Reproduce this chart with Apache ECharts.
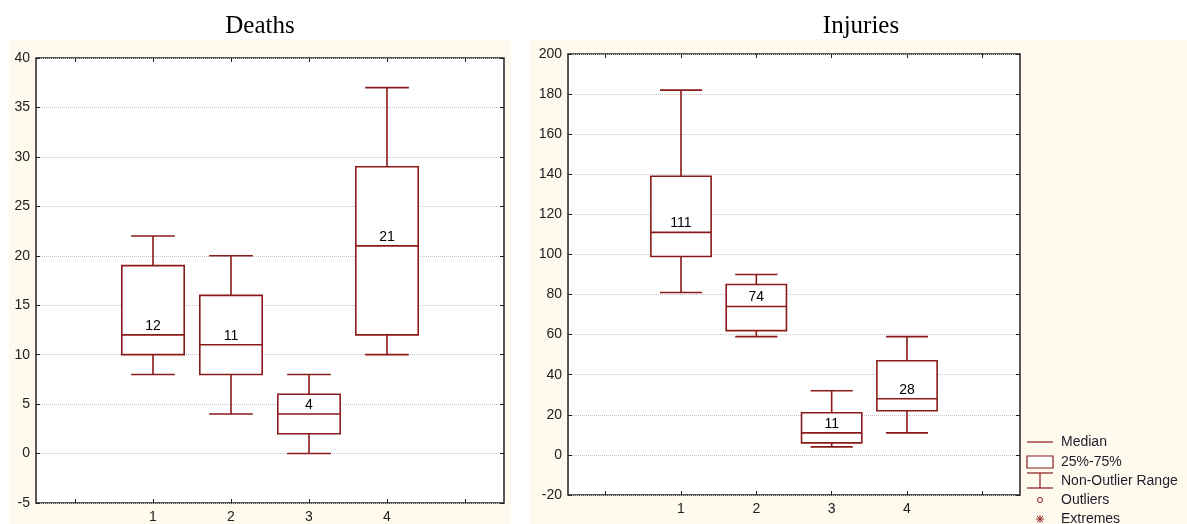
<!DOCTYPE html>
<html>
<head>
<meta charset="utf-8">
<script src="https://cdn.jsdelivr.net/npm/echarts@6/dist/echarts.min.js"></script>
<style>html,body{margin:0;padding:0;background:#fff;}#c{width:1187px;height:524px;}</style>
</head>
<body>
<div id="c"></div>
<script>
// ---- data ----
const categories = ['', '1', '2', '3', '4', ''];
const groupIndex = [1, 2, 3, 4];

const deathsMin    = [8, 4, 0, 10];
const deathsQ1     = [10, 8, 2, 12];
const deathsMedian = [12, 11, 4, 21];
const deathsQ3     = [19, 16, 6, 29];
const deathsMax    = [22, 20, 8, 37];

const injuriesMin    = [81, 59, 4, 11];
const injuriesQ1     = [99, 62, 6, 22];
const injuriesMedian = [111, 74, 11, 28];
const injuriesQ3     = [139, 85, 21, 47];
const injuriesMax    = [182, 90, 32, 59];

const deathsTicks = { min: -5, max: 40, interval: 5 };
const injuriesTicks = { min: -20, max: 200, interval: 20 };

const legendLabels = ['Median', '25%-75%', 'Non-Outlier Range', 'Outliers', 'Extremes'];

// ---- build ----
function rows(mn, q1, md, q3, mx) {
  return groupIndex.map((g, i) => [g, mn[i], q1[i], md[i], q3[i], mx[i]]);
}
const RED = '#8b1a1a';
const LW = 1.6;

function renderBox(params, api) {
  const x = api.value(0);
  const pMin = api.coord([x, api.value(1)]);
  const pQ1 = api.coord([x, api.value(2)]);
  const pMed = api.coord([x, api.value(3)]);
  const pQ3 = api.coord([x, api.value(4)]);
  const pMax = api.coord([x, api.value(5)]);
  const band = api.size([1, 0])[0];
  const bw = band * 0.8, cw = band * 0.56;
  const cx = pMed[0];
  const ls = { stroke: RED, lineWidth: LW };
  return {
    type: 'group',
    children: [
      { type: 'line', shape: { x1: cx, y1: pMax[1], x2: cx, y2: pQ3[1] }, style: ls },
      { type: 'line', shape: { x1: cx, y1: pQ1[1], x2: cx, y2: pMin[1] }, style: ls },
      { type: 'line', shape: { x1: cx - cw / 2, y1: pMax[1], x2: cx + cw / 2, y2: pMax[1] }, style: ls },
      { type: 'line', shape: { x1: cx - cw / 2, y1: pMin[1], x2: cx + cw / 2, y2: pMin[1] }, style: ls },
      { type: 'rect', shape: { x: cx - bw / 2, y: pQ3[1], width: bw, height: pQ1[1] - pQ3[1] },
        style: { fill: '#fff', stroke: RED, lineWidth: LW } },
      { type: 'line', shape: { x1: cx - bw / 2, y1: pMed[1], x2: cx + bw / 2, y2: pMed[1] }, style: ls },
      { type: 'text', style: { text: String(api.value(3)), x: cx, y: pMed[1] - 2,
          align: 'center', verticalAlign: 'bottom', fill: '#000',
          font: '14px "Liberation Sans", Arial, sans-serif' } }
    ]
  };
}

const labelFont = { color: '#222', fontSize: 14, fontFamily: '"Liberation Sans", Arial, sans-serif' };

function xAxes(gridIndex) {
  return [
    { type: 'category', gridIndex, data: categories, boundaryGap: true, position: 'bottom', z: 3,
      axisLine: { show: false, onZero: false }, axisTick: { show: true, inside: true, alignWithLabel: true, length: 4, lineStyle: { color: '#222' } },
      axisLabel: Object.assign({ margin: 7, interval: 0 }, labelFont), splitLine: { show: false } },
    { type: 'category', gridIndex, data: categories, boundaryGap: true, position: 'top', z: 3,
      axisLine: { show: false, onZero: false }, axisTick: { show: true, inside: true, alignWithLabel: true, length: 4, lineStyle: { color: '#222' } },
      axisLabel: { show: false }, splitLine: { show: false } }
  ];
}
function yAxes(gridIndex, t) {
  return [
    { type: 'value', gridIndex, min: t.min, max: t.max, interval: t.interval, position: 'left', z: 3,
      axisLine: { show: false, onZero: false }, axisTick: { show: true, inside: true, length: 4, lineStyle: { color: '#222' } },
      axisLabel: Object.assign({ margin: 6 }, labelFont),
      splitLine: { show: true, lineStyle: { type: 'dotted', color: '#c4c4c4', width: 1 } } },
    { type: 'value', gridIndex, min: t.min, max: t.max, interval: t.interval, position: 'right', z: 3,
      axisLine: { show: false, onZero: false }, axisTick: { show: true, inside: true, length: 4, lineStyle: { color: '#222' } },
      axisLabel: { show: false }, splitLine: { show: false } }
  ];
}

// legend drawing
const LX = 1027, LT = 1061;
const legendY = [442, 462, 481, 500, 519];
const legFont = '14px "Liberation Sans", Arial, sans-serif';
const legendEls = [
  { type: 'line', shape: { x1: LX, y1: legendY[0], x2: LX + 26, y2: legendY[0] }, style: { stroke: RED, lineWidth: 1.2 } },
  { type: 'rect', shape: { x: LX, y: legendY[1] - 6, width: 26, height: 12 }, style: { fill: '#fff', stroke: RED, lineWidth: 1.2 } },
  { type: 'line', shape: { x1: LX, y1: legendY[2] - 8, x2: LX + 26, y2: legendY[2] - 8 }, style: { stroke: RED, lineWidth: 1.2 } },
  { type: 'line', shape: { x1: LX + 13, y1: legendY[2] - 8, x2: LX + 13, y2: legendY[2] + 7 }, style: { stroke: RED, lineWidth: 1.2 } },
  { type: 'line', shape: { x1: LX, y1: legendY[2] + 7, x2: LX + 26, y2: legendY[2] + 7 }, style: { stroke: RED, lineWidth: 1.2 } },
  { type: 'circle', shape: { cx: LX + 13, cy: legendY[3], r: 2.5 }, style: { fill: 'none', stroke: RED, lineWidth: 1 } },
  { type: 'line', shape: { x1: LX + 9, y1: legendY[4], x2: LX + 17, y2: legendY[4] }, style: { stroke: RED, lineWidth: 1 } },
  { type: 'line', shape: { x1: LX + 13, y1: legendY[4] - 4, x2: LX + 13, y2: legendY[4] + 4 }, style: { stroke: RED, lineWidth: 1 } },
  { type: 'line', shape: { x1: LX + 10, y1: legendY[4] - 3, x2: LX + 16, y2: legendY[4] + 3 }, style: { stroke: RED, lineWidth: 1 } },
  { type: 'line', shape: { x1: LX + 16, y1: legendY[4] - 3, x2: LX + 10, y2: legendY[4] + 3 }, style: { stroke: RED, lineWidth: 1 } }
].concat(legendLabels.map((t, i) => ({
  type: 'text', style: { text: t, x: LT, y: legendY[i], verticalAlign: 'middle', fill: '#1e1e2a', font: legFont }
})));

const option = {
  backgroundColor: '#fff',
  animation: false,
  title: [
    { text: 'Deaths', left: 255, top: 9, textAlign: 'center',
      textStyle: { fontFamily: '"Liberation Serif", "Times New Roman", serif', fontWeight: 'normal', fontSize: 25, color: '#000' } },
    { text: 'Injuries', left: 856, top: 9, textAlign: 'center',
      textStyle: { fontFamily: '"Liberation Serif", "Times New Roman", serif', fontWeight: 'normal', fontSize: 25, color: '#000' } }
  ],
  graphic: [
    { type: 'rect', z: -10, silent: true, shape: { x: 9, y: 39, width: 502, height: 485 }, style: { fill: '#fff9ee' } },
    { type: 'rect', z: -10, silent: true, shape: { x: 530, y: 39, width: 657, height: 485 }, style: { fill: '#fff9ee' } },
    { type: 'group', z: 10, children: legendEls }
  ],
  grid: [
    { left: 36, top: 58, width: 468, height: 445, show: true, backgroundColor: '#fff', borderColor: '#222', borderWidth: 1.5 },
    { left: 568, top: 54, width: 452, height: 441, show: true, backgroundColor: '#fff', borderColor: '#222', borderWidth: 1.5 }
  ],
  xAxis: xAxes(0).concat(xAxes(1)),
  yAxis: yAxes(0, deathsTicks).concat(yAxes(1, injuriesTicks)),
  series: [
    { type: 'custom', name: 'Deaths', xAxisIndex: 0, yAxisIndex: 0, renderItem: renderBox,
      encode: { x: 0, y: [1, 2, 3, 4, 5] }, data: rows(deathsMin, deathsQ1, deathsMedian, deathsQ3, deathsMax), z: 5 },
    { type: 'custom', name: 'Injuries', xAxisIndex: 2, yAxisIndex: 2, renderItem: renderBox,
      encode: { x: 0, y: [1, 2, 3, 4, 5] }, data: rows(injuriesMin, injuriesQ1, injuriesMedian, injuriesQ3, injuriesMax), z: 5 }
  ]
};

const chart = echarts.init(document.getElementById('c'), null, { renderer: 'canvas' });
chart.setOption(option);
</script>
</body>
</html>
